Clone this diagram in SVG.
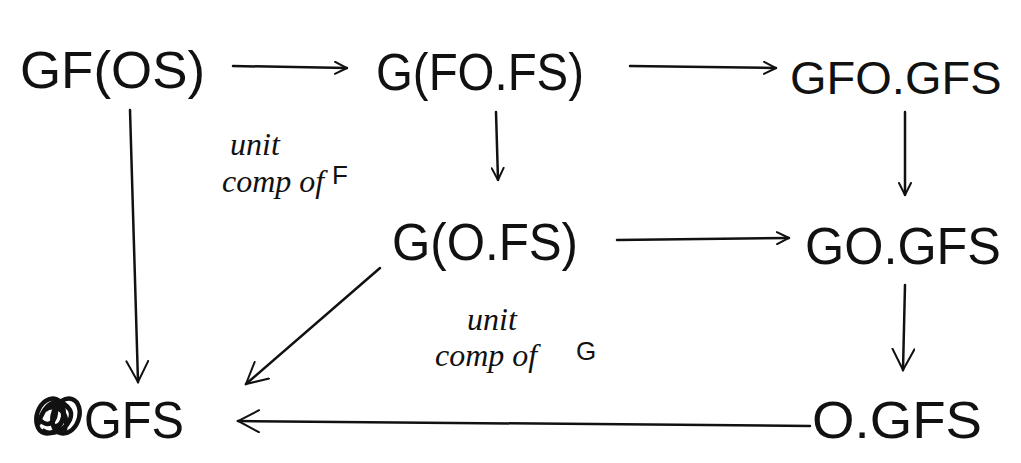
<svg xmlns="http://www.w3.org/2000/svg" width="1021" height="463" viewBox="0 0 1021 463">
<style>
.n{font-family:"Liberation Sans",Arial,sans-serif;font-size:52px;fill:#111;}
.l{font-family:"Liberation Serif","Times New Roman",serif;font-style:italic;font-size:32px;fill:#111;}
.lf{font-family:"Liberation Sans",Arial,sans-serif;font-size:26px;fill:#111;}
.c{stroke:#111;stroke-width:2.5;fill:none;stroke-linecap:round;stroke-linejoin:round;}
</style>
<defs>
<marker id="ah" viewBox="0 0 14 14" refX="13" refY="7" markerWidth="14" markerHeight="14" markerUnits="userSpaceOnUse" orient="auto">
<path d="M1,1 L13,7 L1,13" fill="none" stroke="#111" stroke-width="2" stroke-linecap="round"/>
</marker>
<marker id="ahb" viewBox="0 0 24 24" refX="22" refY="12" markerWidth="24" markerHeight="24" markerUnits="userSpaceOnUse" orient="auto">
<path d="M1,1 L22,12 L1,23" fill="none" stroke="#111" stroke-width="2" stroke-linecap="round"/>
</marker>
</defs>
<rect width="1021" height="463" fill="#fff"/>
<g id="connectors">
<path class="c" d="M233,66 L347,68" marker-end="url(#ah)"/>
<path class="c" d="M630,66 L776,68" marker-end="url(#ah)"/>
<path class="c" d="M496,112 L498,180" marker-end="url(#ah)"/>
<path class="c" d="M905,112 L905,195" marker-end="url(#ah)"/>
<path class="c" d="M617,240 L789,238" marker-end="url(#ah)"/>
<path class="c" d="M130,110 L138,382" marker-end="url(#ahb)"/>
<path class="c" d="M380,268 L246,384" marker-end="url(#ahb)"/>
<path class="c" d="M905,285 L903,370" marker-end="url(#ahb)"/>
<path class="c" d="M810,426 L238,421" marker-end="url(#ahb)"/>
</g>
<g id="n-gfos"><text class="n" x="20" y="88" textLength="185" lengthAdjust="spacingAndGlyphs">GF(OS)</text></g>
<g id="n-gfofs"><text class="n" x="376" y="90" textLength="208" lengthAdjust="spacingAndGlyphs">G(FO.FS)</text></g>
<g id="n-gfogfs"><text class="n" x="790" y="94" style="font-size:47px">GFO.GFS</text></g>
<g id="n-gofs"><text class="n" x="392" y="260" textLength="186" lengthAdjust="spacingAndGlyphs">G(O.FS)</text></g>
<g id="n-gogfs"><text class="n" x="805" y="264" textLength="196" lengthAdjust="spacingAndGlyphs">GO.GFS</text></g>
<g id="n-gfs">
<g fill="none" stroke="#111" stroke-width="4.5">
<ellipse cx="50" cy="416" rx="13" ry="18" transform="rotate(20 50 416)"/>
<ellipse cx="66" cy="416" rx="13" ry="18" transform="rotate(20 66 416)"/>
<path d="M38,425 C45,400 60,396 70,410 C76,422 55,440 42,430 M45,410 C55,402 72,412 64,432 M54,400 C60,420 50,430 40,420 M58,405 C68,415 62,428 52,426"/>
</g>
<text class="n" x="84" y="438" textLength="100" lengthAdjust="spacingAndGlyphs">GFS</text>
</g>
<g id="n-ogfs"><text class="n" x="812" y="438" textLength="170" lengthAdjust="spacingAndGlyphs">O.GFS</text></g>
<g id="l-unitF">
<text class="l" x="230" y="155">unit</text>
<text class="l" x="222" y="192">comp of</text>
<text class="lf" x="332" y="184">F</text>
</g>
<g id="l-unitG">
<text class="l" x="467" y="330">unit</text>
<text class="l" x="435" y="366">comp of</text>
<text class="lf" x="576" y="360">G</text>
</g>
</svg>
